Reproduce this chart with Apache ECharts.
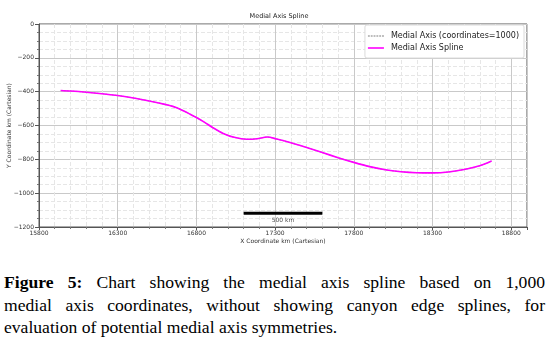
<!DOCTYPE html>
<html>
<head>
<meta charset="utf-8">
<script src="https://cdn.jsdelivr.net/npm/echarts@6/dist/echarts.min.js"></script>
<style>
  html, body { margin: 0; padding: 0; background: #fff; }
  #wrap { position: relative; width: 558px; height: 343px; overflow: hidden; }
  #chart { position: absolute; left: 0; top: 0; width: 558px; height: 258px; }
  #caption {
    position: absolute; left: 4px; top: 271px; width: 541px;
    font-family: "Liberation Serif", "Times New Roman", serif;
    font-size: 17.6px; line-height: 22.5px; color: #000;
  }
  #caption .ln { white-space: nowrap; text-align: justify; text-align-last: justify; }
  #caption .ln.last { text-align-last: left; }
</style>
</head>
<body>
<div id="wrap">
  <div id="chart"></div>
  <div id="caption">
    <div class="ln"><b>Figure 5:</b> Chart showing the medial axis spline based on 1,000</div>
    <div class="ln">medial axis coordinates, without showing canyon edge splines, for</div>
    <div class="ln last">evaluation of potential medial axis symmetries.</div>
  </div>
</div>
<script>
// Medial axis spline (km, Cartesian)
const splineX = [15938, 16000, 16100, 16200, 16300, 16400, 16500, 16600, 16650, 16700,
                 16760, 16800, 16850, 16900, 16970, 17040, 17120, 17185, 17250, 17310,
                 17400, 17500, 17600, 17700, 17800, 17900, 18000, 18100, 18200, 18300,
                 18400, 18500, 18600, 18675];
const splineY = [-393, -396, -403, -412, -423, -437, -455, -475, -487, -505,
                 -533, -553, -580, -610, -647, -670, -681, -678, -668, -680,
                 -702, -730, -760, -790, -818, -843, -862, -873, -879, -880,
                 -875, -860, -838, -810];

// Raw medial axis coordinates (drawn underneath the spline)
const medialX = splineX;
const medialY = splineY;

// Scale bar
const scaleBarX = [17100, 17600];
const scaleBarY = -1118;
const scaleBarLabel = '500 km';
const scaleLabelY = -1162;

// Axis ranges and ticks
const xMin = 15800, xMax = 18900, xStep = 500;
const yMin = -1200, yMax = 0, yStep = 200;

const seriesNames = ['Medial Axis (coordinates=1000)', 'Medial Axis Spline'];

const pairs = (xs, ys) => xs.map((x, i) => [x, ys[i]]);
const plainNumber = v => String(v).replace('-', '\u2212');

const labelFont = { fontFamily: 'DejaVu Sans', fontSize: 6, color: '#333' };

// Legend glyphs: a dotted grey stroke and a solid magenta stroke
const dottedIcon = 'path://M0,0h2v1h-2zM3,0h2v1h-2zM6,0h2v1h-2zM9,0h2v1h-2zM12,0h2v1h-2zM15,0h2v1h-2z';

const chart = echarts.init(document.getElementById('chart'), null, { renderer: 'canvas' });
chart.setOption({
  animation: false,
  backgroundColor: '#fff',
  title: {
    text: 'Medial Axis Spline',
    left: 'center',
    top: 13,
    padding: 0,
    textStyle: { fontFamily: 'DejaVu Sans', fontSize: 6.5, fontWeight: 'normal', color: '#222' }
  },
  legend: {
    orient: 'vertical',
    right: 34,
    top: 25,
    padding: [6, 5, 5, 3],
    itemGap: 2,
    itemWidth: 16,
    itemHeight: 1.6,
    symbolKeepAspect: false,
    backgroundColor: '#fff',
    borderColor: '#dadada',
    borderWidth: 1,
    borderRadius: 2,
    textStyle: { fontFamily: 'DejaVu Sans', fontSize: 8, color: '#222', padding: [0, 0, 0, 2], lineHeight: 10 },
    data: [
      { name: seriesNames[0], icon: dottedIcon, itemStyle: { color: '#a8a8a8' } },
      { name: seriesNames[1], icon: 'rect', itemStyle: { color: '#ff00ff' } }
    ]
  },
  grid: {
    left: 39, right: 31, top: 24, bottom: 31,
    outerBoundsMode: 'none',
    containLabel: false,
    show: true, borderColor: '#555', borderWidth: 1
  },
  xAxis: {
    type: 'value',
    min: xMin, max: xMax, interval: xStep,
    name: 'X Coordinate km (Cartesian)',
    nameLocation: 'middle',
    nameGap: 11,
    nameMoveOverlap: false,
    nameTextStyle: labelFont,
    axisLine: { show: true, onZero: false, lineStyle: { color: '#555' } },
    axisTick: { show: true, inside: false, length: 3, lineStyle: { color: '#555' } },
    minorTick: { show: true, splitNumber: 5, length: 2, lineStyle: { color: '#777' } },
    axisLabel: Object.assign({ margin: 3, showMaxLabel: false, formatter: plainNumber }, labelFont),
    splitLine: { show: true, lineStyle: { color: '#c9c9c9', width: 1 } },
    minorSplitLine: { show: true, lineStyle: { color: '#e6e6e6', width: 1, type: [4, 2] } }
  },
  yAxis: {
    type: 'value',
    min: yMin, max: yMax, interval: yStep,
    name: 'Y Coordinate km (Cartesian)',
    nameLocation: 'middle',
    nameGap: 27,
    nameMoveOverlap: false,
    nameRotate: 90,
    nameTextStyle: labelFont,
    axisLine: { show: true, onZero: false, lineStyle: { color: '#555' } },
    axisTick: { show: true, inside: false, length: 4, lineStyle: { color: '#555' } },
    minorTick: { show: true, splitNumber: 4, length: 2, lineStyle: { color: '#777' } },
    axisLabel: Object.assign({ margin: 5, formatter: plainNumber }, labelFont),
    splitLine: { show: true, lineStyle: { color: '#c9c9c9', width: 1 } },
    minorSplitLine: { show: true, lineStyle: { color: '#e6e6e6', width: 1, type: [4, 2] } }
  },
  series: [
    {
      name: seriesNames[0],
      type: 'line',
      data: pairs(medialX, medialY),
      symbol: 'none',
      smooth: 0.3,
      z: 2,
      lineStyle: { color: '#9a9a9a', width: 1, type: [2, 1] },
      itemStyle: { color: '#9a9a9a' }
    },
    {
      name: seriesNames[1],
      type: 'line',
      data: pairs(splineX, splineY),
      symbol: 'none',
      smooth: 0.3,
      z: 3,
      lineStyle: { color: '#ff00ff', width: 1.6 },
      itemStyle: { color: '#ff00ff' }
    },
    {
      name: 'scaleBar',
      type: 'line',
      data: scaleBarX.map(x => [x, scaleBarY]),
      symbol: 'none',
      silent: true,
      z: 4,
      lineStyle: { color: '#000', width: 3, cap: 'butt' }
    },
    {
      name: 'scaleBarLabel',
      type: 'scatter',
      data: [[(scaleBarX[0] + scaleBarX[1]) / 2, scaleLabelY]],
      symbolSize: 0,
      silent: true,
      label: {
        show: true,
        position: 'inside',
        formatter: scaleBarLabel,
        fontFamily: 'DejaVu Sans', fontSize: 6, color: '#222'
      }
    }
  ]
});
</script>
</body>
</html>
